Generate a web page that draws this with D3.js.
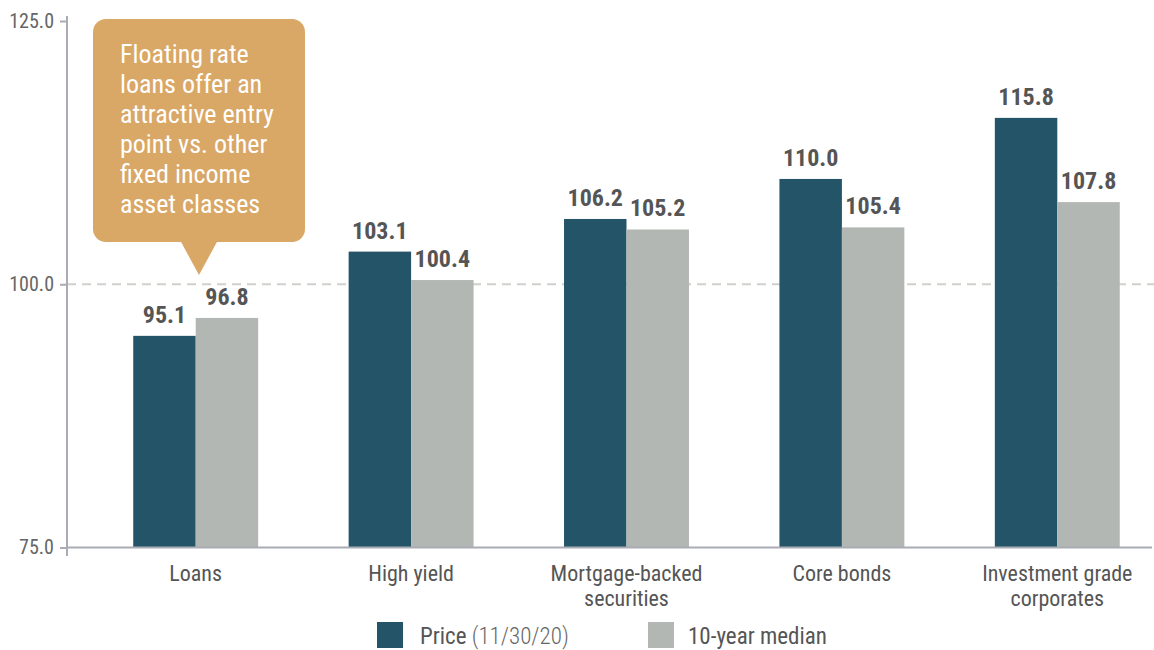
<!DOCTYPE html>
<html>
<head>
<meta charset="utf-8">
<style>
  body { margin: 0; background: #fff; }
  svg text { font-family: "Roboto Condensed", "Liberation Sans Narrow", "DejaVu Sans Condensed", "Arial Narrow", sans-serif; }
</style>
</head>
<body>
<svg class="chart"></svg>
<script src="https://d3js.org/d3.v7.min.js"></script>
<script>
// data
const categories = [["Loans"], ["High yield"], ["Mortgage-backed", "securities"], ["Core bonds"], ["Investment grade", "corporates"]];
const priceValues = [95.1, 103.1, 106.2, 110.0, 115.8];
const medianValues = [96.8, 100.4, 105.2, 105.4, 107.8];
const seriesNames = ["Price", "10-year median"];
const yTicks = [75, 100, 125];
const calloutLines = ["Floating rate", "loans offer an", "attractive entry", "point vs. other", "fixed income", "asset classes"];

const width = 1154, height = 650;
const darkColor = "#245467", grayColor = "#b3b7b3";

let svg = d3.select(".chart")
    .attr("width", width)
    .attr("height", height);

let yScale = d3.scaleLinear().domain([75, 125]).range([547.5, 21]);
let xScale = d3.scaleBand().domain(d3.range(categories.length)).range([88, 1165]).paddingInner(0.42).paddingOuter(0.21);
let subScale = d3.scaleBand().domain([0, 1]).range([0, xScale.bandwidth()]);

// dashed line at 100
svg.append("line")
    .attr("x1", 67).attr("x2", 1154)
    .attr("y1", yScale(100)).attr("y2", yScale(100))
    .attr("stroke", "#d0d0cc")
    .attr("stroke-width", 1.8)
    .attr("stroke-dasharray", "9,6");

// bars
let groups = svg.selectAll(".grp")
    .data(categories.map((c, i) => ({i: i, vals: [priceValues[i], medianValues[i]]})))
    .join("g")
    .attr("class", "grp")
    .attr("transform", d => "translate(" + xScale(d.i) + ",0)");

groups.selectAll("rect")
    .data(d => d.vals.map((v, k) => ({k: k, v: v})))
    .join("rect")
    .attr("x", d => subScale(d.k))
    .attr("y", d => yScale(d.v))
    .attr("width", subScale.bandwidth())
    .attr("height", d => yScale(75) - yScale(d.v))
    .attr("fill", d => d.k == 0 ? darkColor : grayColor);

groups.selectAll("text.val")
    .data(d => d.vals.map((v, k) => ({k: k, v: v})))
    .join("text")
    .attr("class", "val")
    .attr("x", d => subScale(d.k) + subScale.bandwidth() / 2)
    .attr("y", d => yScale(d.v) - 13)
    .attr("text-anchor", "middle")
    .attr("font-size", 24)
    .attr("font-weight", "bold")
    .attr("fill", "#555")
    .text(d => d.v.toFixed(1));

// y axis
let yAxis = d3.axisLeft(yScale).tickValues(yTicks).tickFormat(d3.format(".1f")).tickSize(7).tickPadding(6);
let gy = svg.append("g")
    .attr("transform", "translate(67,0)")
    .call(yAxis);
gy.select(".domain").attr("stroke", "#a9abb5").attr("stroke-width", 2).attr("d", "M0,16V556");
gy.selectAll(".tick line").attr("stroke", "#a9abb5").attr("stroke-width", 2);
gy.selectAll(".tick text").attr("font-size", 20).attr("fill", "#666");

// x axis line
svg.append("line")
    .attr("x1", 67).attr("x2", 1152)
    .attr("y1", yScale(75)).attr("y2", yScale(75))
    .attr("stroke", "#a9abb5")
    .attr("stroke-width", 2);

// category labels
svg.selectAll(".cat")
    .data(categories)
    .join("text")
    .attr("class", "cat")
    .attr("text-anchor", "middle")
    .attr("font-size", 22)
    .attr("fill", "#555")
    .attr("x", (d, i) => xScale(i) + xScale.bandwidth() / 2)
    .attr("y", 581)
    .selectAll("tspan")
    .data(d => d)
    .join("tspan")
    .attr("x", function() { return this.parentNode.getAttribute("x"); })
    .attr("dy", (d, i) => i == 0 ? 0 : 25)
    .text(d => d);

// callout
let callout = svg.append("g");
callout.append("rect")
    .attr("x", 93).attr("y", 19)
    .attr("width", 212).attr("height", 223)
    .attr("rx", 13)
    .attr("fill", "#d9a766");
callout.append("path")
    .attr("d", "M180,240L199,275L218,240Z")
    .attr("fill", "#d9a766");
callout.append("text")
    .attr("font-size", 26)
    .attr("fill", "#fff")
    .selectAll("tspan")
    .data(calloutLines)
    .join("tspan")
    .attr("x", 120)
    .attr("y", (d, i) => 63 + i * 30)
    .text(d => d);

// legend
let legend = svg.append("g");
legend.append("rect").attr("x", 377).attr("y", 622).attr("width", 26).attr("height", 26).attr("fill", darkColor);
let lt = legend.append("text").attr("x", 420).attr("y", 644).attr("font-size", 23).attr("fill", "#555");
lt.append("tspan").text(seriesNames[0] + " ");
lt.append("tspan").attr("fill", "#666").attr("font-weight", "300").text("(11/30/20)");
legend.append("rect").attr("x", 648).attr("y", 622).attr("width", 26).attr("height", 26).attr("fill", grayColor);
legend.append("text").attr("x", 688).attr("y", 644).attr("font-size", 23).attr("fill", "#555").text(seriesNames[1]);
</script>
</body>
</html>
